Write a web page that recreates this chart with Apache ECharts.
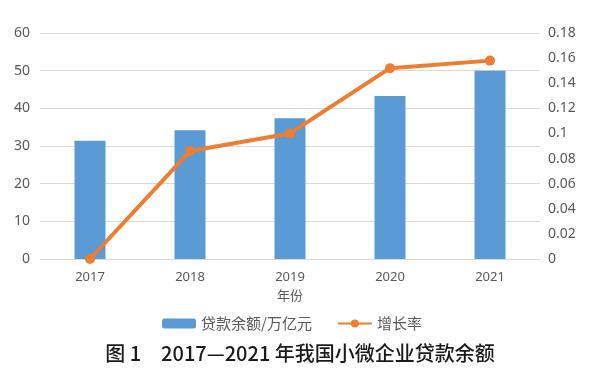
<!DOCTYPE html>
<html>
<head>
<meta charset="utf-8">
<script src="https://cdn.jsdelivr.net/npm/echarts@6/dist/echarts.min.js"></script>
<style>
  html, body { margin: 0; padding: 0; background: #fff; }
  #chart { width: 600px; height: 376px; }
</style>
</head>
<body>
<div id="chart"></div>
<script>
const years = ['2017', '2018', '2019', '2020', '2021']
const loanBalance = [31.4, 34.2, 37.4, 43.3, 50.0]
const growthRate = [0, 0.086, 0.1, 0.152, 0.158]

const font = '"Noto Sans", "Noto Sans CJK SC", sans-serif'
const cjk = '"Noto Sans CJK SC", sans-serif'
const grey = '#595959'

const chart = echarts.init(document.getElementById('chart'))
chart.setOption({
    animation: false,
    textStyle: { fontFamily: font },
    title: {
        text: '图 1　2017—2021 年我国小微企业贷款余额',
        left: 'center',
        top: 338,
        textStyle: {
            fontFamily: cjk,
            fontSize: 20,
            fontWeight: 500,
            color: '#1a1a1a'
        }
    },
    legend: {
        top: 311,
        left: 157,
        itemWidth: 34,
        itemHeight: 10,
        itemGap: 25,
        textStyle: { color: grey, fontSize: 15, fontFamily: cjk },
        data: ['贷款余额/万亿元', '增长率']
    },
    grid: { left: 40, right: 60, top: 33, bottom: 117 },
    xAxis: {
        type: 'category',
        data: years,
        name: '年份',
        nameLocation: 'middle',
        nameGap: 30,
        nameTextStyle: { color: grey, fontSize: 13, fontFamily: cjk },
        axisTick: { show: false },
        axisLine: { lineStyle: { color: '#d9d9d9' } },
        axisLabel: { color: grey, fontSize: 13, margin: 12 }
    },
    yAxis: [
        {
            type: 'value',
            min: 0,
            max: 60,
            interval: 10,
            axisLine: { show: false },
            axisTick: { show: false },
            axisLabel: { color: grey, fontSize: 14, margin: 10 },
            splitLine: { lineStyle: { color: '#d9d9d9' } }
        },
        {
            type: 'value',
            min: 0,
            max: 0.18,
            interval: 0.02,
            axisLine: { show: false },
            axisTick: { show: false },
            axisLabel: { color: grey, fontSize: 14, margin: 8 },
            splitLine: { show: false }
        }
    ],
    series: [
        {
            name: '贷款余额/万亿元',
            type: 'bar',
            barWidth: '31%',
            data: loanBalance,
            itemStyle: { color: '#5b9bd5' }
        },
        {
            name: '增长率',
            type: 'line',
            yAxisIndex: 1,
            data: growthRate,
            symbol: 'circle',
            symbolSize: 10,
            lineStyle: { color: '#ed7d31', width: 4 },
            itemStyle: { color: '#ed7d31' }
        }
    ]
})
</script>
</body>
</html>
